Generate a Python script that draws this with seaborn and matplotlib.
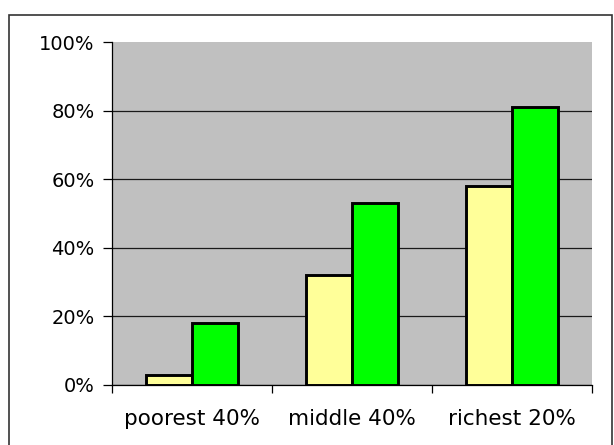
import numpy as np
import pandas as pd
import matplotlib
matplotlib.use("Agg")
import matplotlib.pyplot as plt
import seaborn as sns
from matplotlib.patches import Rectangle
from matplotlib.ticker import PercentFormatter

groups = ["poorest 40%", "middle 40%", "richest 20%"]
series_a = [0.03, 0.32, 0.58]
series_b = [0.18, 0.53, 0.81]
yticks = [0, 0.2, 0.4, 0.6, 0.8, 1.0]

df = pd.DataFrame({
    "group": groups * 2,
    "series": ["A"] * 3 + ["B"] * 3,
    "share": series_a + series_b,
})

sns.set_style("white")
plt.rcParams["font.family"] = ["DejaVu Sans"]
plt.rcParams["text.color"] = "black"
plt.rcParams["xtick.color"] = "black"
plt.rcParams["ytick.color"] = "black"

fig = plt.figure(figsize=(6.14, 4.45), dpi=100)
ax = fig.add_axes([112 / 614, 1 - 385 / 445, 480 / 614, 343 / 445])

sns.barplot(data=df, x="group", y="share", hue="series", order=groups,
            palette=["#FFFF99", "#00FF00"], saturation=1, width=0.575, gap=0,
            edgecolor="black", linewidth=2.1, legend=False, ax=ax, zorder=3)

ax.set_facecolor("#C0C0C0")
ax.set_ylim(0, 1)
ax.set_xlim(-0.5, 2.5)
ax.set_yticks(yticks)
ax.yaxis.set_major_formatter(PercentFormatter(1.0, decimals=0))
ax.grid(axis="y", color="#1a1a1a", linewidth=0.9, zorder=0)
ax.get_ygridlines()[-1].set_visible(False)
ax.set_axisbelow(True)
ax.set_xlabel("")
ax.set_ylabel("")

for side in ["top", "right"]:
    ax.spines[side].set_visible(False)
ax.spines["left"].set_color("black")
ax.spines["bottom"].set_color("black")
ax.spines["left"].set_linewidth(0.9)
ax.spines["bottom"].set_linewidth(0.9)

ax.tick_params(axis="y", direction="out", length=6.5, width=0.9,
               labelsize=14, pad=6, left=True, labelcolor="black")
ax.tick_params(axis="x", which="major", length=0, labelsize=15.5, pad=17,
               labelcolor="black")
ax.set_xticks([-0.5, 0.5, 1.5, 2.5], minor=True)
ax.tick_params(axis="x", which="minor", direction="out", length=6, width=0.9,
               bottom=True)

# outer chart border
fig.patches.append(Rectangle((9 / 614, -0.05), 603 / 614, 1.05 - 15 / 445,
                             transform=fig.transFigure, fill=False,
                             edgecolor="#333333", linewidth=1.2))

fig.savefig("out.png", dpi=100)
